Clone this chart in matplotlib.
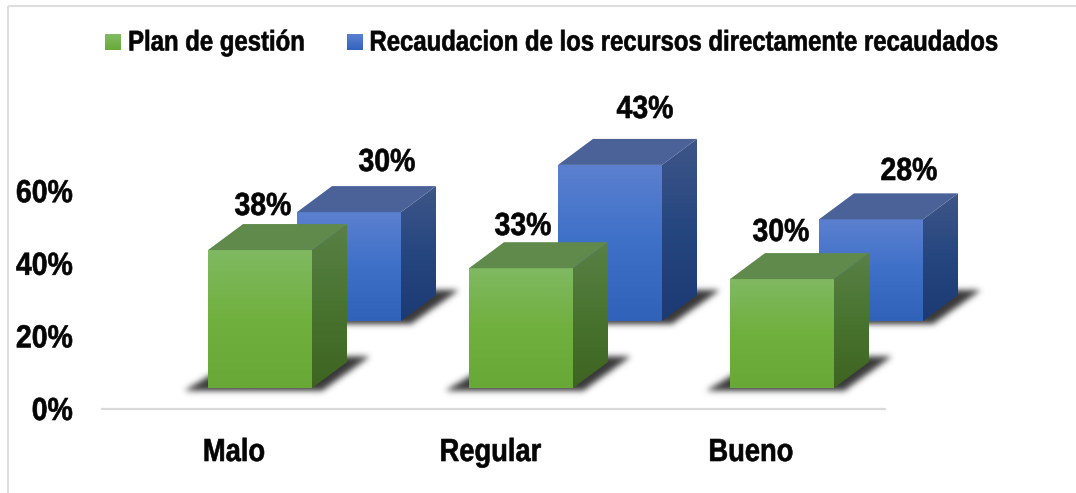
import matplotlib
matplotlib.use("Agg")
import matplotlib.pyplot as plt
import numpy as np
from matplotlib.patches import Polygon
from matplotlib.path import Path
from matplotlib.patheffects import AbstractPathEffect
from matplotlib.transforms import Affine2D

categories = ["Malo", "Regular", "Bueno"]
plan_gestion = [38, 33, 30]
recaudacion = [30, 43, 28]
y_ticks = [0, 20, 40, 60]
series_names = ["Plan de gestión", "Recaudacion de los recursos directamente recaudados"]

W, H = 1076, 493
plt.rcParams['font.family'] = ['Liberation Sans', 'DejaVu Sans']
fig = plt.figure(figsize=(W/100, H/100), dpi=100)
ax = fig.add_axes([0, 0, 1, 1])

PX_X = 261.0   # px per category
PX_Y = 3.63    # px per percent
X0 = 260.0     # px of first green bar centre
Y0 = 388.0     # px of zero
ax.set_xlim(-X0/PX_X, (W-X0)/PX_X)
ax.set_ylim(-(H-Y0)/PX_Y, Y0/PX_Y)
ax.axis('off')

def dx(px): return (px - X0)/PX_X
def dy(py): return (Y0 - py)/PX_Y

BW = 104/PX_X
DX = 35/PX_X
DY = 26/PX_Y
BLUE_DX = 89/PX_X
BLUE_DY = 67/PX_Y


class Narrow(AbstractPathEffect):
    """Condense glyphs horizontally about a display x (Arial Narrow look)."""
    def __init__(self, sx, anchor, stroke=0.45):
        super().__init__()
        self.sx, self.anchor, self.stroke = sx, anchor, stroke

    def draw_path(self, renderer, gc, tpath, affine, rgbFace=None):
        extra = Affine2D().translate(-self.anchor, 0).scale(self.sx, 1).translate(self.anchor, 0)
        gc0 = renderer.new_gc()
        gc0.copy_properties(gc)
        gc0.set_linewidth(self.stroke)
        gc0.set_foreground(rgbFace)
        renderer.draw_path(gc0, tpath, affine + extra, rgbFace)
        gc0.restore()


def label(px, baseline, s, sx, ha='center', size=23):
    t = ax.text(dx(px), dy(baseline), s, ha=ha, va='baseline', fontsize=size,
                fontweight='bold', color='#050505', zorder=60)
    t.set_path_effects([Narrow(sx, px)])
    return t


def vgrad(c_top, c_mid, c_bot, n=128):
    t = np.linspace(0, 1, n)[:, None]
    a, b, c = map(np.array, (c_top, c_mid, c_bot))
    out = np.where(t < .5, a + (b-a)*t*2, b + (c-b)*(t-.5)*2)
    return out[:, None, :].astype(float)/255


def fill(poly, img, z):
    xs, ys = zip(*poly)
    im = ax.imshow(img, extent=(min(xs), max(xs), min(ys), max(ys)), aspect='auto',
                   zorder=z, interpolation='bilinear')
    p = Polygon(poly, fc='none', ec='none')
    ax.add_patch(p)
    im.set_clip_path(p)


def blur(a, sigma):
    r = int(3*sigma)
    k = np.exp(-0.5*(np.arange(-r, r+1)/sigma)**2)
    k /= k.sum()
    a = np.apply_along_axis(lambda m: np.convolve(m, k, mode='same'), 0, a)
    return np.apply_along_axis(lambda m: np.convolve(m, k, mode='same'), 1, a)


def shadow(xc, yb, z):
    # soft floor shadow of a cube, computed in pixel space around its base
    l, r = xc - BW/2, xc + BW/2
    pl, pr = X0 + l*PX_X, X0 + r*PX_X
    pb = Y0 - yb*PX_Y
    quad = [(pl-24, pb+3), (pr+10, pb+3), (pr+58, pb-31), (pl+34, pb-31)]
    x0, x1, y0, y1 = int(pl-50), int(pr+90), int(pb-60), int(pb+20)
    xx, yy = np.meshgrid(np.arange(x0, x1)+.5, np.arange(y0, y1)+.5)
    mask = Path(quad).contains_points(np.c_[xx.ravel(), yy.ravel()]).reshape(xx.shape).astype(float)
    a = blur(mask, 3.0)
    rgba = np.zeros(a.shape + (4,))
    rgba[..., :3] = 0.22
    rgba[..., 3] = a
    ax.imshow(rgba, extent=(dx(x0), dx(x1), dy(y1), dy(y0)), aspect='auto', zorder=z,
              interpolation='bilinear')


def cube(xc, yb, v, pal, z):
    l, r = xc - BW/2, xc + BW/2
    t = yb + v
    shadow(xc, yb, z)
    fill([(l, yb), (r, yb), (r, t), (l, t)], vgrad(*pal['front']), z+1)
    fill([(r, yb), (r+DX, yb+DY), (r+DX, t+DY), (r, t)], vgrad(*pal['side']), z+1)
    ax.add_patch(Polygon([(l, t), (r, t), (r+DX, t+DY), (l+DX, t+DY)], fc=pal['top'], ec='none', zorder=z+1))


GREEN = dict(front=[(128, 185, 98), (112, 176, 62), (104, 168, 54)],
             side=[(90, 128, 70), (72, 116, 48), (62, 100, 32)],
             top='#5f8a4b')
BLUE = dict(front=[(92, 128, 208), (62, 112, 200), (48, 98, 186)],
            side=[(62, 86, 136), (38, 70, 128), (28, 58, 116)],
            top='#4a6298')
legend_cols = [((130, 187, 100), (105, 170, 55)), ((90, 128, 208), (50, 100, 190))]

# frame (left and top only) and floor line
ax.plot([dx(7.5)]*2, [dy(H), dy(6.5)], color='#dedede', lw=1.5, zorder=0, solid_capstyle='butt')
ax.plot([dx(7.5), dx(W)], [dy(6.5)]*2, color='#dedede', lw=1.5, zorder=0, solid_capstyle='butt')
ax.plot([dx(102), dx(885)], [dy(408.5)]*2, color='#d9d9d9', lw=1.6, zorder=1, solid_capstyle='round')

# label layout, px
green_label_x = [263, 523, 781]
green_label_base = [215, 235, 241]
blue_label_x = [387, 645, 909]
blue_label_base = [171, 118, 180]
cat_label_x = [234, 490.5, 751]
cat_label_base = 461

for i, c in enumerate(categories):
    cube(i + BLUE_DX, BLUE_DY, recaudacion[i], BLUE, 2 + i*10)
    cube(i, 0, plan_gestion[i], GREEN, 6 + i*10)
    label(green_label_x[i], green_label_base[i], f"{plan_gestion[i]}%", 0.89)
    label(blue_label_x[i], blue_label_base[i], f"{recaudacion[i]}%", 0.89)
    label(cat_label_x[i], cat_label_base, c, 0.855)

for v in y_ticks:
    label(73, 420 - v*72.6/20, f"{v}%", 0.89, ha='right')

# legend
for sx, tc, name, cols in zip((105, 347), (216.5, 684), series_names, legend_cols):
    l, r = dx(sx), dx(sx+16)
    b, t = dy(50), dy(34)
    fill([(l, b), (r, b), (r, t), (l, t)], vgrad(cols[0], tuple((np.array(cols[0])+np.array(cols[1]))/2), cols[1]), 30)
    label(tc, 50.5, name, 0.84, size=20.5)

ax.set_xlim(-X0/PX_X, (W-X0)/PX_X)
ax.set_ylim(-(H-Y0)/PX_Y, Y0/PX_Y)
fig.savefig("out.png", dpi=100, facecolor='white')
